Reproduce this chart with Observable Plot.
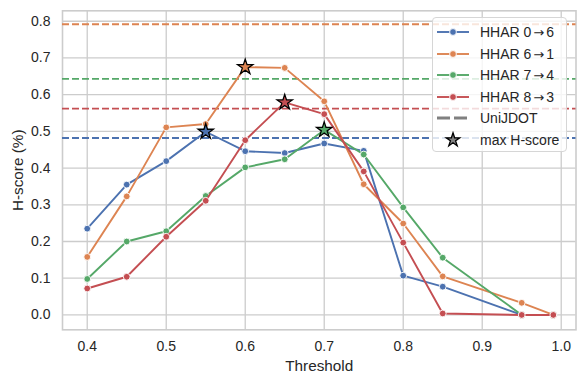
<!DOCTYPE html>
<html><head><meta charset="utf-8">
<script src="https://cdn.jsdelivr.net/npm/d3@7"></script>
<script src="https://cdn.jsdelivr.net/npm/@observablehq/plot@0.6"></script>
<style>
body{margin:0;background:#fff;}
#wrap{position:relative;width:585px;height:385px;font-family:"Liberation Sans",Arial,sans-serif;color:#262626;}
#legend{position:absolute;left:432px;top:17px;width:135px;height:135px;background:rgba(255,255,255,0.8);border:1px solid #d6d6d6;border-radius:4px;box-sizing:border-box;}
.row{position:absolute;left:0;height:20px;display:flex;align-items:center;font-size:14px;white-space:nowrap;}
.row svg{margin-left:4px;margin-right:11px;}
.arr{font-family:"DejaVu Sans",sans-serif;font-size:13px;margin:0 2px;}
</style></head><body><div id="wrap"></div>
<script>
const thresholds = [0.4, 0.45, 0.5, 0.55, 0.6, 0.65, 0.7, 0.75, 0.8, 0.85, 0.95, 0.99];
const seriesNames = ["HHAR 0\u21926", "HHAR 6\u21921", "HHAR 7\u21924", "HHAR 8\u21923"];
const hhar06 = [0.235, 0.355, 0.419, 0.499, 0.446, 0.441, 0.467, 0.447, 0.107, 0.077, 0.0, 0.0];
const hhar61 = [0.158, 0.323, 0.511, 0.520, 0.675, 0.673, 0.582, 0.356, 0.249, 0.105, 0.033, 0.0];
const hhar74 = [0.098, 0.200, 0.228, 0.324, 0.402, 0.424, 0.504, 0.437, 0.293, 0.156, 0.0, 0.0];
const hhar83 = [0.072, 0.104, 0.213, 0.311, 0.476, 0.579, 0.547, 0.391, 0.197, 0.004, 0.0, 0.0];
const unijdot = [0.482, 0.792, 0.643, 0.562];
const colors = ["#4C72B0", "#DD8452", "#55A868", "#C44E52"];
const xTicks = [0.4, 0.5, 0.6, 0.7, 0.8, 0.9, 1.0];
const yTicks = [0.0, 0.1, 0.2, 0.3, 0.4, 0.5, 0.6, 0.7, 0.8];
const legendLabels = [...seriesNames, "UniJDOT", "max H-score"];

const seriesValues = [hhar06, hhar61, hhar74, hhar83];
const rows = [];
seriesValues.forEach((vals, i) => vals.forEach((v, j) => rows.push({series: seriesNames[i], t: thresholds[j], h: v})));
const uniRows = unijdot.map((v, i) => ({series: seriesNames[i], h: v}));
const best = seriesNames.map((s, i) => {
  const vals = seriesValues[i];
  const j = d3.maxIndex(vals);
  return {series: s, t: thresholds[j], h: vals[j]};
});

const seriesMarks = seriesNames.flatMap(s => [
  Plot.line(rows.filter(d => d.series === s), {x: "t", y: "h", stroke: "series", strokeWidth: 1.9}),
  Plot.dot(rows.filter(d => d.series === s), {x: "t", y: "h", fill: "series", stroke: "white", strokeWidth: 0.9, r: 3.4})
]);

const chart = Plot.plot({
  width: 585, height: 385,
  marginLeft: 62, marginRight: 9.5, marginTop: 10.3, marginBottom: 55.7,
  style: {fontFamily: '"Liberation Sans", Arial, sans-serif', fontSize: "14px", color: "#262626", background: "white", overflow: "visible"},
  x: {domain: [0.3687, 1.0187]},
  y: {domain: [-0.0405, 0.8285]},
  color: {domain: seriesNames, range: colors},
  marks: [
    Plot.gridX(xTicks, {stroke: "#cccccc", strokeOpacity: 1, strokeWidth: 1.3}),
    Plot.gridY(yTicks, {stroke: "#cccccc", strokeOpacity: 1, strokeWidth: 1.3}),
    Plot.frame({stroke: "#cccccc", strokeWidth: 1.6}),
    Plot.ruleY(uniRows, {y: "h", stroke: "series", strokeDasharray: "7,3", strokeWidth: 1.9}),
    ...seriesMarks,
    Plot.dot(best, {x: "t", y: "h", fill: "series", symbol: "star", stroke: "black", strokeWidth: 1.3, r: 4.8}),
    Plot.axisX(xTicks, {tickFormat: d3.format(".1f"), tickSize: 0, tickPadding: 11, fontSize: 14, label: "Threshold", labelAnchor: "center", labelArrow: "none", labelOffset: 41, fill: "#262626"}),
    Plot.axisY(yTicks, {tickFormat: d3.format(".1f"), tickSize: 0, tickPadding: 12, fontSize: 14, label: "H-score (%)", labelAnchor: "center", labelArrow: "none", labelOffset: 50, fill: "#262626"})
  ]
});
const wrap = document.getElementById("wrap");
wrap.appendChild(chart);
chart.querySelectorAll("[aria-label='x-axis label'] text, [aria-label='y-axis label'] text").forEach(t => t.setAttribute("font-size", "15.3"));

// legend
const legend = document.createElement("div");
legend.id = "legend";
const rowTops = [14, 35.5, 57, 78.5, 100, 121.5];
const NS = "http://www.w3.org/2000/svg";
legendLabels.forEach((lab, i) => {
  const r = document.createElement("div");
  r.className = "row";
  r.style.top = (rowTops[i] - 10) + "px";
  const svg = document.createElementNS(NS, "svg");
  svg.setAttribute("width", 32); svg.setAttribute("height", 20);
  if (i < 4) {
    svg.innerHTML = `<line x1="0" x2="32" y1="10" y2="10" stroke="${colors[i]}" stroke-width="1.9"/><circle cx="16" cy="10" r="3.4" fill="${colors[i]}" stroke="white" stroke-width="0.9"/>`;
  } else if (i === 4) {
    svg.innerHTML = `<line x1="0" x2="32" y1="10" y2="10" stroke="#808080" stroke-width="3" stroke-dasharray="13,4"/>`;
  } else {
    const p = d3.symbol(d3.symbolStar, Math.PI * 4.3 * 4.3)();
    svg.innerHTML = `<path transform="translate(16,10)" d="${p}" fill="#808080" stroke="black" stroke-width="1.3"/>`;
  }
  r.appendChild(svg);
  const span = document.createElement("span");
  lab.split("\u2192").forEach((part, k) => {
    if (k > 0) {
      const a = document.createElement("span");
      a.className = "arr";
      a.textContent = "\u2192";
      span.appendChild(a);
    }
    span.appendChild(document.createTextNode(part));
  });
  r.appendChild(span);
  legend.appendChild(r);
});
wrap.appendChild(legend);
</script></body></html>
